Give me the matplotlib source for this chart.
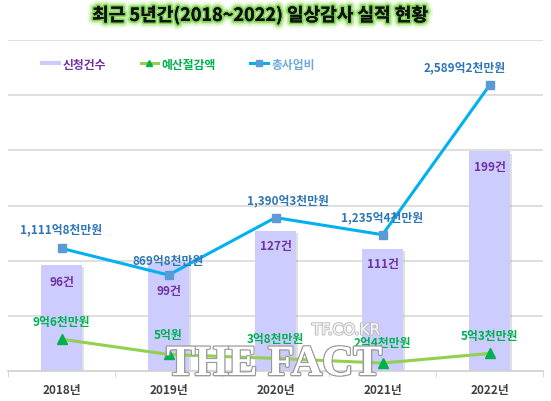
import matplotlib
matplotlib.use("Agg")
import matplotlib.pyplot as plt
import matplotlib.patheffects as pe
from matplotlib.lines import Line2D

plt.rcParams['font.family'] = ['Noto Sans CJK KR', 'DejaVu Sans']

years = ['2018년', '2019년', '2020년', '2021년', '2022년']
applications = [96, 99, 127, 111, 199]
savings = [9.6, 5.0, 3.8, 2.4, 5.3]
total_cost = [1111.8, 869.8, 1390.3, 1235.4, 2589.2]
app_labels = ['96건', '99건', '127건', '111건', '199건']
saving_labels = ['9억6천만원', '5억원', '3억8천만원', '2억4천만원', '5억3천만원']
cost_labels = ['1,111억8천만원', '869억8천만원', '1,390억3천만원', '1,235억4천만원', '2,589억2천만원']
series_names = ['신청건수', '예산절감액', '총사업비']
title = '최근 5년간(2018~2022) 일상감사 실적 현황'

W, H = 551, 402
fig = plt.figure(figsize=(W / 100, H / 100), dpi=100)
fig.patch.set_facecolor('white')

left, right, top, bottom = 8, 543, 41, 372
rect = [left / W, 1 - bottom / H, (right - left) / W, (bottom - top) / H]
ax = fig.add_axes(rect)
ax2 = fig.add_axes(rect, sharex=ax)
ax3 = fig.add_axes(rect, sharex=ax)
for a in (ax2, ax3):
    a.patch.set_visible(False)
    a.axis('off')

x = list(range(len(years)))
ax.set_xlim(-0.5, len(years) - 0.5)
ax.set_ylim(0, 300)
ax2.set_ylim(0, 3000)
ax3.set_ylim(0, 100)

# gridlines
ax.set_yticks([50, 100, 150, 200, 250, 300])
ax.yaxis.grid(True, color='#d9d9d9', linewidth=1.2)
ax.set_axisbelow(True)
ax.tick_params(axis='y', left=False, labelleft=False)
for s in ['top', 'right', 'left']:
    ax.spines[s].set_visible(False)
ax.spines['bottom'].set_color('#d0d0d0')
ax.spines['bottom'].set_linewidth(1.2)

# x ticks
ax.set_xticks(x)
ax.set_xticklabels(years, fontsize=8.5, fontweight='bold', color='#404040')
ax.set_xticks([i - 0.5 for i in range(len(years) + 1)], minor=True)
ax.tick_params(axis='x', which='major', length=0, pad=9)
ax.tick_params(axis='x', which='minor', length=4, color='#d0d0d0')

# bars
bars = ax.bar(x, applications, width=0.38, color='#ccccff', zorder=2,
              path_effects=[pe.SimplePatchShadow(offset=(1.5, -1.5), shadow_rgbFace='#999999', alpha=0.3),
                            pe.Normal()])

bar_offsets = [-16, -29, -15, -15, -15]
for i, (v, lab) in enumerate(zip(applications, app_labels)):
    ax.annotate(lab, (i, v), xytext=(0, bar_offsets[i]), textcoords='offset pixels',
                ha='center', va='center', fontsize=8.5, fontweight='bold', color='#7030a0', zorder=5)

# total cost line
ax2.plot(x, total_cost, color='#00b0f0', linewidth=2.2, marker='s', markersize=6,
         markerfacecolor='#5b9bd5', markeredgecolor='#5b9bd5', zorder=4)
cost_offsets = [(0, 19), (0, 15), (12, 18), (0, 18), (-25, 18)]
for i, (v, lab) in enumerate(zip(total_cost, cost_labels)):
    ax2.annotate(lab, (i, v), xytext=cost_offsets[i], textcoords='offset pixels',
                 ha='center', va='center', fontsize=8.5, fontweight='bold', color='#2e75b6', zorder=5)

# savings line
ax3.plot(x, savings, color='#92d050', linewidth=2.2, marker='^', markersize=7,
         markerfacecolor='#00b050', markeredgecolor='#00b050', zorder=4)
sav_offsets = [(0, 18), (0, 20), (0, 20), (0, 21), (0, 18)]
for i, (v, lab) in enumerate(zip(savings, saving_labels)):
    ax3.annotate(lab, (i, v), xytext=sav_offsets[i], textcoords='offset pixels',
                 ha='center', va='center', fontsize=8.5, fontweight='bold', color='#00b050', zorder=5)

# legend
handles = [Line2D([0], [0], color='#ccccff', linewidth=3),
           Line2D([0], [0], color='#92d050', linewidth=2.2, marker='^', markersize=5,
                  markerfacecolor='#00b050', markeredgecolor='#00b050'),
           Line2D([0], [0], color='#00b0f0', linewidth=2.2, marker='s', markersize=5,
                  markerfacecolor='#5b9bd5', markeredgecolor='#5b9bd5')]
leg = fig.legend(handles, series_names, loc='center left', bbox_to_anchor=(31 / W, 1 - 65 / H),
                 ncol=3, frameon=False, handlelength=1.5, handletextpad=0.3,
                 columnspacing=2.9, prop={'weight': 'bold', 'size': 8.5})
for t, c in zip(leg.get_texts(), ['#7030a0', '#00b050', '#6fa8dc']):
    t.set_color(c)

# title
fig.text(260 / W, 1 - 16 / H, title, ha='center', va='center', fontsize=13, fontweight='bold',
         color='#111111',
         path_effects=[pe.withStroke(linewidth=8, foreground='#d8f5c0', alpha=0.5),
                       pe.withStroke(linewidth=5, foreground='#a6e87a', alpha=0.6),
                       pe.withStroke(linewidth=2.5, foreground='#6cc644', alpha=0.7),
                       pe.Normal()])

# watermark
fig.text(274 / W, 1 - 366 / H, 'THE FACT', ha='center', va='center', fontsize=31,
         family='Liberation Serif', fontweight='bold', color='white',
         path_effects=[pe.withStroke(linewidth=2, foreground='#9a9a9a'), pe.Normal()], zorder=10)
fig.text(346 / W, 1 - 331 / H, 'TF.CO.KR', ha='center', va='center', fontsize=11,
         family='DejaVu Sans', color='#f2f2f2',
         path_effects=[pe.withStroke(linewidth=1.5, foreground='#bbbbbb'), pe.Normal()], zorder=10)

fig.savefig('out.png', dpi=100, facecolor='white')
